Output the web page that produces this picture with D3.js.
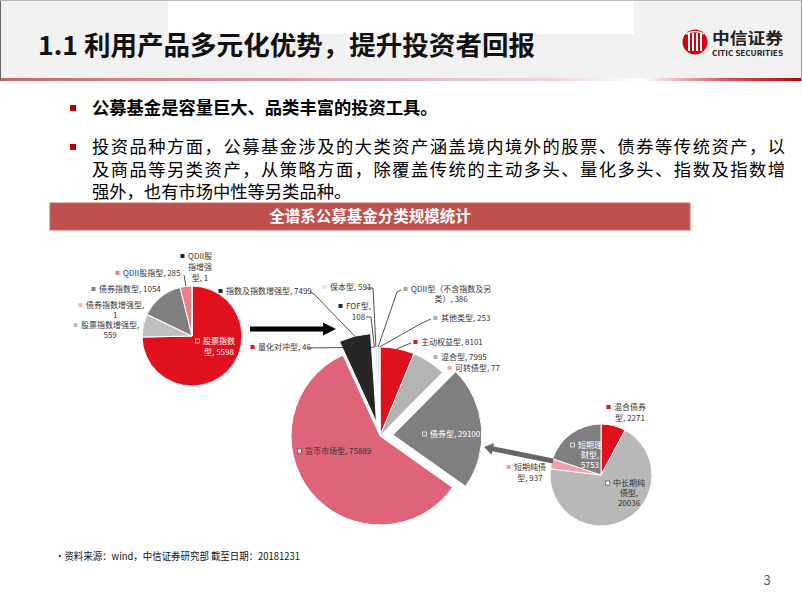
<!DOCTYPE html>
<html><head><meta charset="utf-8">
<script src="https://cdn.jsdelivr.net/npm/d3@7"></script>
<style>
body{margin:0;background:#fff}
svg{display:block}
text{font-family:"Noto Sans CJK SC","Noto Sans",sans-serif}
</style>
</head><body>
<svg id="c" width="802" height="602"></svg>
<script>
// ---------- data ----------
const titleText = "1.1 利用产品多元化优势，提升投资者回报";
const bullet1 = "公募基金是容量巨大、品类丰富的投资工具。";
const bullet2Lines = [
  "投资品种方面，公募基金涉及的大类资产涵盖境内境外的股票、债券等传统资产，以",
  "及商品等另类资产，从策略方面，除覆盖传统的主动多头、量化多头、指数及指数增",
  "强外，也有市场中性等另类品种。"
];
const bannerText = "全谱系公募基金分类规模统计";
const sourceText = "•资料来源：wind，中信证券研究部 截至日期：20181231";
const pageNo = "3";

const indexCats = ["股票指数型","股票指数增强型","债券指数增强型","债券指数型","QDII股指型","QDII股指增强型"];
const indexVals = [5598, 559, 1, 1054, 285, 1];

const fundCats = ["主动权益型","混合型","可转债型","债券型","货币市场型","指数及指数增强型","量化对冲型","FOF型","保本型","QDII型（不含指数及另类）","其他类型"];
const fundVals = [8101, 7995, 77, 29100, 75889, 7499, 46, 108, 591, 386, 253];

const bondCats = ["混合债券型","中长期纯债型","短期纯债型","短期理财型"];
const bondVals = [2271, 20036, 937, 5753];

// ---------- styles / layout ----------
const indexColors = ["#e0101c","#bfbfbf","#f4b8c0","#808080","#f07c8c","#262626"];
const fundColors  = ["#e0101c","#b3b3b3","#f4a6b2","#7f7f7f","#e06478","#262626","#e0101c","#1f3050","#dde6f0","#a6a6a6","#8fb4d9"];
const bondColors  = ["#e0101c","#b8b8b8","#f4a0ac","#7f7f7f"];

const svg = d3.select("#c");

// header
svg.append("rect").attr("x",0).attr("y",0).attr("width",802).attr("height",79).attr("fill","#f1f1f1");
svg.append("rect").attr("x",168).attr("y",0).attr("width",466).attr("height",34).attr("fill","#ffffff");
const defs = svg.append("defs");
const lg = defs.append("linearGradient").attr("id","hl").attr("x1",0).attr("x2",1).attr("y1",0).attr("y2",0);
[[0,"#c9636d"],[0.35,"#dc9aa0"],[0.7,"#f3d9db"],[0.8,"#ffffff"],[0.83,"#f6d0d2"],[0.9,"#dc5a60"],[1,"#c00000"]]
  .forEach(s=>lg.append("stop").attr("offset",s[0]).attr("stop-color",s[1]));
svg.append("rect").attr("x",0).attr("y",78).attr("width",802).attr("height",3).attr("fill","url(#hl)");
svg.append("line").attr("x1",0.5).attr("x2",0.5).attr("y1",0).attr("y2",81).attr("stroke","#666");
svg.append("line").attr("x1",0).attr("x2",802).attr("y1",0.5).attr("y2",0.5).attr("stroke","#bbb");
svg.append("line").attr("x1",801.5).attr("x2",801.5).attr("y1",0).attr("y2",81).attr("stroke","#999");

svg.append("text").attr("x",38).attr("y",46).attr("dy","0.36em")
  .attr("font-size",26).attr("font-weight","bold").attr("fill","#111")
  .attr("textLength",497).attr("lengthAdjust","spacingAndGlyphs").text(titleText);

// logo
const logo = svg.append("g");
logo.append("circle").attr("cx",695).attr("cy",42).attr("r",12.5).attr("fill","#d7000f");
[-6,-2,2,6].forEach(dx=>{
  logo.append("rect").attr("x",695+dx-1).attr("y",33).attr("width",2).attr("height",18).attr("fill","#fff");
});
logo.append("path").attr("d","M686,34 Q695,29 704,34").attr("fill","none").attr("stroke","#fff").attr("stroke-width",1.5);
logo.append("text").attr("x",712).attr("y",38.5).attr("dy","0.36em").attr("font-size",15.5).attr("font-weight","bold")
  .attr("fill","#222").attr("textLength",71).attr("lengthAdjust","spacingAndGlyphs").text("中信证券");
logo.append("text").attr("x",712).attr("y",53).attr("dy","0.36em").attr("font-size",7.5).attr("font-weight","bold")
  .attr("fill","#222").attr("font-family","Liberation Sans Narrow, Arial, sans-serif")
  .attr("textLength",71).attr("lengthAdjust","spacingAndGlyphs").text("CITIC SECURITIES");

// bullets
svg.append("rect").attr("x",70).attr("y",105).attr("width",6).attr("height",6).attr("fill","#c00000");
svg.append("text").attr("x",92).attr("y",108).attr("dy","0.36em").attr("font-size",17.3).attr("font-weight","bold")
  .attr("fill","#000").text(bullet1);
svg.append("rect").attr("x",70).attr("y",144).attr("width",6).attr("height",6).attr("fill","#c00000");
const lineY = [147,169.5,192];
bullet2Lines.forEach((t,i)=>{
  const tx = svg.append("text").attr("x",92).attr("y",lineY[i]).attr("dy","0.36em").attr("font-size",17.3).attr("fill","#000").text(t);
  if(i<2) tx.attr("textLength",693).attr("lengthAdjust","spacing");
});

// banner
svg.append("rect").attr("x",50).attr("y",203).attr("width",640).attr("height",27).attr("fill","#c0504d").attr("stroke","#c96a68").attr("stroke-width",1);
svg.append("text").attr("x",370).attr("y",216.5).attr("dy","0.36em").attr("text-anchor","middle")
  .attr("font-size",15.5).attr("font-weight","bold").attr("fill","#fff").text(bannerText);

// footer
svg.append("text").attr("x",55).attr("y",556).attr("dy","0.36em").attr("font-size",10).attr("fill","#111")
  .attr("textLength",245).attr("lengthAdjust","spacingAndGlyphs").text(sourceText);
svg.append("text").attr("x",767).attr("y",580).attr("dy","0.36em").attr("text-anchor","middle").attr("font-size",13).attr("fill","#595959").text(pageNo);

// ---------- pies ----------
const pieLayer = svg.append("g");
const arrowLayer = svg.append("g");
const labelLayer = svg.append("g");

function drawPie(cats, vals, cfg){
  const g = pieLayer.append("g");
  const pie = d3.pie().sort(null).value(d=>d.v);
  const arcs = pie(vals.map((v,i)=>({c:cats[i], v:v, i:i})));
  const arc = d3.arc().innerRadius(0).outerRadius(cfg.r);
  arcs.forEach(a=>{
    a.mid = (a.startAngle+a.endAngle)/2;
    const e = (cfg.explode && cfg.explode[a.index]) || 0;
    a.ox = cfg.cx + e*Math.sin(a.mid);
    a.oy = cfg.cy - e*Math.cos(a.mid);
  });
  g.selectAll("path").data(arcs).join("path")
    .attr("transform",d=>`translate(${d.ox},${d.oy})`)
    .attr("d",arc).attr("fill",d=>cfg.colors[d.index])
    .attr("stroke","#fff").attr("stroke-width",1);
  return {arcs, edge:(i)=>{const a=arcs[i];return [a.ox+cfg.r*Math.sin(a.mid), a.oy-cfg.r*Math.cos(a.mid)];}};
}

function splitLabel(str, cuts){
  const out=[]; let p=0;
  (cuts||[]).forEach(c=>{out.push(str.slice(p,c).trim()); p=c;});
  out.push(str.slice(p).trim());
  return out;
}

function drawLabels(cats, vals, colors, pieObj, layout){
  layout.forEach(L=>{
    const i = L.i;
    const full = `${cats[i]}, ${vals[i]}`;
    const lines = splitLabel(full, L.cuts);
    const fill = L.inside === "white" ? "#fff" : "#333";
    if(L.leader){
      const pts = L.leader.concat([pieObj.edge(i)]);
      labelLayer.append("path").attr("d", d3.line()(pts)).attr("fill","none").attr("stroke","#222").attr("stroke-width",0.8);
    }
    const m = labelLayer.append("rect").attr("x",L.mx+0.5).attr("y",L.y-2).attr("width",4).attr("height",4);
    if(L.inside){
      m.attr("fill", L.inside==="white" ? "none" : "#fff").attr("stroke", L.inside==="white" ? "#fff" : "#555").attr("stroke-width",0.7);
    } else m.attr("fill",colors[i]);
    const t0 = labelLayer.append("text").attr("x",L.mx+8).attr("y",L.y).attr("dy","0.36em")
      .attr("font-size",8).attr("fill",fill).text(lines[0]);
    const w = t0.node().getComputedTextLength();
    const cxm = L.mx + 8 + w/2;
    lines.slice(1).forEach((ln,k)=>{
      labelLayer.append("text").attr("x",cxm).attr("y",L.y+(k+1)*(L.lh||11)).attr("dy","0.36em")
        .attr("text-anchor","middle").attr("font-size",8).attr("fill",fill).text(ln);
    });
  });
}

const leftPie = drawPie(indexCats, indexVals, {cx:192, cy:336, r:50, colors:indexColors});
const midPie  = drawPie(fundCats, fundVals, {cx:380, cy:436, r:89, colors:fundColors, explode:{3:13,5:14}});
const rightPie= drawPie(bondCats, bondVals, {cx:601, cy:475, r:51, colors:bondColors});

// arrows
function arrow(x1,y1,x2,y2,color,w,hl,hw){
  const dx=x2-x1, dy=y2-y1, L=Math.hypot(dx,dy), ux=dx/L, uy=dy/L, px=-uy, py=ux;
  const bx=x2-ux*hl, by=y2-uy*hl;
  arrowLayer.append("line").attr("x1",x1).attr("y1",y1).attr("x2",bx+ux).attr("y2",by+uy).attr("stroke",color).attr("stroke-width",w);
  arrowLayer.append("path").attr("d",`M${x2},${y2}L${bx+px*hw},${by+py*hw}L${bx-px*hw},${by-py*hw}Z`).attr("fill",color);
}
arrow(250,329,336,329,"#000",5,13,6.5);
arrow(553,461,484,447,"#666",5,9,6);

drawLabels(indexCats, indexVals, indexColors, leftPie, [
  {i:0, mx:195, y:341, cuts:[4], inside:"white"},
  {i:1, mx:73, y:325, cuts:[8], lh:10},
  {i:2, mx:78, y:305, cuts:[8], lh:10},
  {i:3, mx:91, y:289},
  {i:4, mx:115, y:273, leader:[[184,275]]},
  {i:5, mx:180, y:256, cuts:[5,8]}
]);

drawLabels(fundCats, fundVals, fundColors, midPie, [
  {i:0, mx:413, y:342, leader:[[411,343]]},
  {i:1, mx:433, y:357},
  {i:2, mx:447, y:368},
  {i:3, mx:422, y:434, inside:"white"},
  {i:4, mx:297, y:451, inside:"dark"},
  {i:5, mx:218, y:291, leader:[[310,292],[314,294]]},
  {i:6, mx:250, y:347, leader:[[308,348]]},
  {i:7, mx:338, y:306, cuts:[5], leader:[[366,317],[371,317]]},
  {i:8, mx:322, y:287, leader:[[366,288],[373,288]]},
  {i:9, mx:403, y:289, cuts:[12], lh:10, leader:[[401,290],[397,292]]},
  {i:10, mx:433, y:318, leader:[[431,319],[422,323]]}
]);

drawLabels(bondCats, bondVals, bondColors, rightPie, [
  {i:0, mx:606, y:407, cuts:[4]},
  {i:1, mx:605, y:483, cuts:[4,7], inside:"dark", lh:10},
  {i:2, mx:506, y:467, cuts:[4]},
  {i:3, mx:570, y:445, cuts:[3,6], inside:"white", lh:10}
]);
</script>
</body></html>
